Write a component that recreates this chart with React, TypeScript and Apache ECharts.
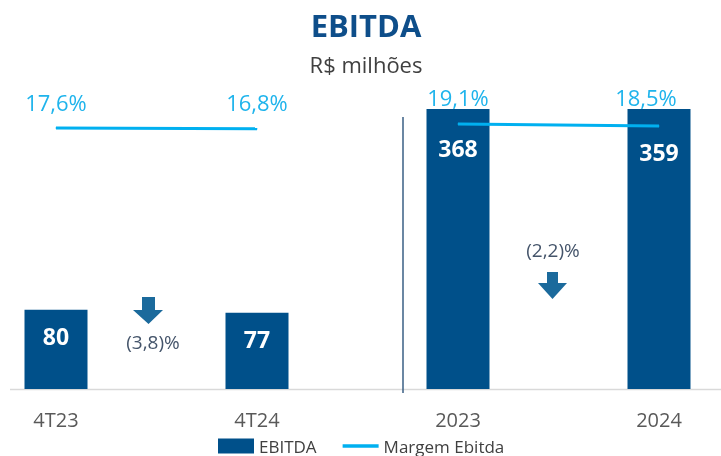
import React, { useEffect, useRef } from 'react';
import * as echarts from 'echarts';

const categories = ['4T23', '4T24', '2023', '2024'];
const ebitdaQuarter = [80, 77, null, null];
const ebitdaYear = [null, null, 368, 359];
const marginQuarter = [17.6, 16.8, null, null];
const marginYear = [null, null, 19.1, 18.5];
const variations = ['(3,8)%', '(2,2)%'];

export default function App() {
  const ref = useRef<HTMLDivElement>(null);
  useEffect(() => {
    const chart = echarts.init(ref.current!, null, { renderer: 'svg' });
    const font = "'Open Sans', sans-serif";
    const pct = (v: number) => v.toFixed(1).replace('.', ',') + '%';
    const barColor = '#00508A';
    const lineColor = '#00B0F0';
    const pctColor = '#1FB4EC';
    const arrowColor = '#1B6A9C';

    chart.setOption({
      animation: false,
      textStyle: { fontFamily: font },
      grid: { left: 56, right: 62, top: 109, bottom: 67, containLabel: false },
      legend: {
        left: 213,
        top: 432,
        itemWidth: 36,
        itemHeight: 15,
        itemGap: 26,
        textStyle: { fontSize: 17, color: '#404040', fontFamily: font, lineHeight: 18 },
        data: [
          { name: 'EBITDA', icon: 'rect' },
          { name: 'Margem Ebitda', icon: 'path://M0,0 L40,0 L40,4 L0,4 Z' },
        ],
      },
      xAxis: {
        type: 'category',
        data: categories,
        boundaryGap: false,
        axisLine: { show: false },
        axisTick: { show: false },
        axisLabel: { fontSize: 20, color: '#595959', margin: 20, interval: 0, fontFamily: font },
      },
      yAxis: [
        { type: 'value', min: 0, max: 283, show: false },
        { type: 'value', min: 0, max: 355, show: false },
        { type: 'value', min: -243.4, max: 36.6, show: false },
        { type: 'value', min: -60.4, max: 23.6, show: false },
      ],
      graphic: [
        { type: 'line', shape: { x1: 10, y1: 389.5, x2: 721, y2: 389.5 }, style: { stroke: '#D9D9D9', lineWidth: 1.5 }, z: 1 },
        { type: 'line', shape: { x1: 403, y1: 117, x2: 403, y2: 393 }, style: { stroke: '#3A5F85', lineWidth: 1.5 }, z: 10 },
        { type: 'text', x: 366, y: 25, style: { text: 'EBITDA', font: `bold 31px ${font}`, fill: '#0E4E8A', textAlign: 'center', textVerticalAlign: 'middle' } },
        { type: 'text', x: 366, y: 64, style: { text: 'R$ milhões', font: `22px ${font}`, fill: '#404040', textAlign: 'center', textVerticalAlign: 'middle' } },
        { type: 'polygon', shape: { points: [[142, 297], [155, 297], [155, 310], [163, 310], [148.5, 324], [133, 310], [142, 310]] }, style: { fill: arrowColor } },
        { type: 'polygon', shape: { points: [[547, 272], [558, 272], [558, 283], [567, 283], [552.5, 299], [538, 283], [547, 283]] }, style: { fill: arrowColor } },
        { type: 'text', x: 153, y: 342, style: { text: variations[0], font: `19px ${font}`, fill: '#44546A', textAlign: 'center', textVerticalAlign: 'middle' } },
        { type: 'text', x: 553, y: 250, style: { text: variations[1], font: `19px ${font}`, fill: '#44546A', textAlign: 'center', textVerticalAlign: 'middle' } },
      ],
      series: [
        {
          name: 'EBITDA',
          type: 'bar',
          yAxisIndex: 0,
          barWidth: 63,
          barGap: '-100%',
          data: ebitdaQuarter,
          itemStyle: { color: barColor },
          label: { show: true, position: 'insideTop', distance: 15, color: '#FFFFFF', fontSize: 23, fontWeight: 'bold', fontFamily: font },
        },
        {
          name: 'EBITDA',
          type: 'bar',
          yAxisIndex: 1,
          barWidth: 63,
          barGap: '-100%',
          clip: true,
          data: ebitdaYear.map((v, i) => (v == null ? null : { value: v, label: { distance: i === 2 ? 27 : 31 } })),
          itemStyle: { color: barColor },
          label: { show: true, position: 'insideTop', color: '#FFFFFF', fontSize: 23, fontWeight: 'bold', fontFamily: font },
        },
        {
          name: 'Margem Ebitda',
          type: 'line',
          yAxisIndex: 2,
          data: marginQuarter,
          symbol: 'circle',
          symbolSize: 1,
          clip: false,
          lineStyle: { color: lineColor, width: 3 },
          itemStyle: { color: lineColor },
          label: { show: true, position: 'top', distance: 15, color: pctColor, fontSize: 22, fontFamily: font, formatter: (p: any) => pct(p.value) },
          z: 5,
        },
        {
          name: 'Margem Ebitda',
          type: 'line',
          yAxisIndex: 3,
          data: marginYear.map((v, i) => (v == null ? null : { value: v, label: i === 3 ? { offset: [-13, -2] } : {} })),
          symbol: 'circle',
          symbolSize: 1,
          clip: false,
          lineStyle: { color: lineColor, width: 3 },
          itemStyle: { color: lineColor },
          label: { show: true, position: 'top', distance: 16, color: pctColor, fontSize: 22, fontFamily: font, formatter: (p: any) => pct(p.value) },
          z: 5,
        },
      ],
    });
    return () => chart.dispose();
  }, []);
  return <div ref={ref} style={{ position: 'fixed', left: 0, top: 0, width: 721, height: 456 }} />;
}
